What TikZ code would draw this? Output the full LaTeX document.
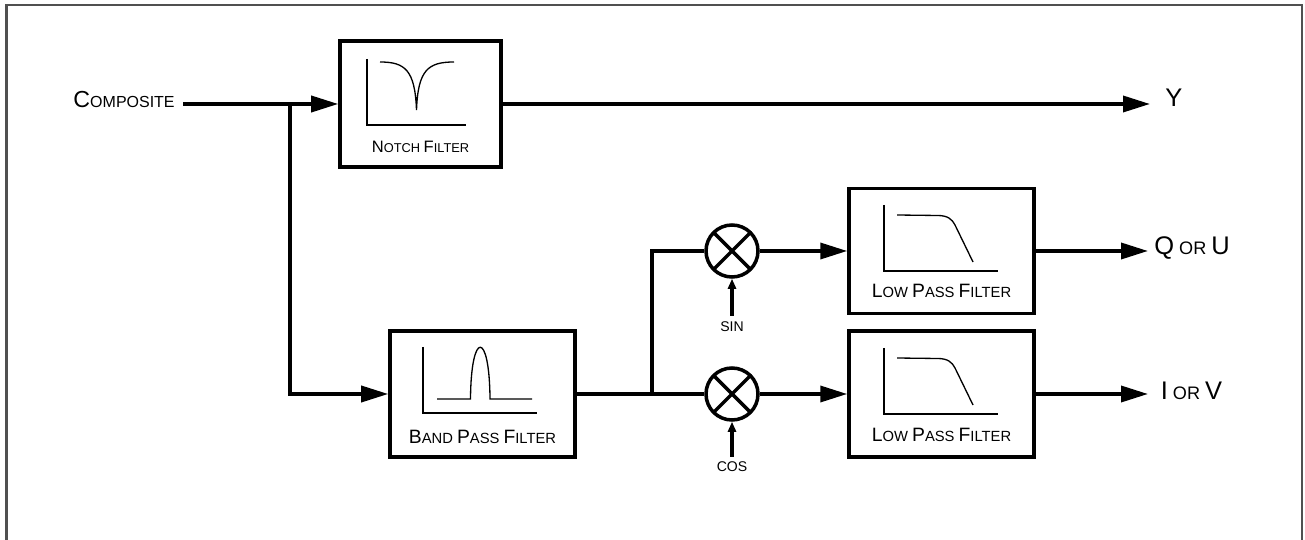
\documentclass[tikz,border=0pt]{standalone}
\usepackage{fontspec}
\setmainfont{Liberation Sans}
\usetikzlibrary{positioning,arrows.meta}
\definecolor{framegray}{RGB}{80,80,80}
\def\capsize{11}
\newcommand{\lc}[1]{{\fontsize{\capsize}{\capsize}\selectfont #1}}

\tikzset{
	filterbox/.style={draw, line width=2pt, minimum width=3.7cm, minimum height=2.52cm, inner sep=0pt},
	mixer/.style={draw, circle, line width=2pt, minimum size=1.04cm, inner sep=0pt,
		path picture={\draw[line width=2pt] (path picture bounding box.north west) -- (path picture bounding box.south east)
			(path picture bounding box.south west) -- (path picture bounding box.north east);}},
	wire/.style={line width=2pt},
	bigtip/.style={-{Triangle[length=0.54cm,width=0.32cm]}},
	smalltip/.style={-{Triangle[length=0.2cm,width=0.16cm]}},
	curve/.style={line width=0.75pt},
	boxlbl/.style={inner sep=0pt, font={\def\capsize{11}\fontsize{8.4}{10}\selectfont}},
	notchlbl/.style={inner sep=0pt, font={\def\capsize{9.4}\fontsize{7.3}{9}\selectfont}},
	inlbl/.style={inner sep=0pt, font={\def\capsize{13.2}\fontsize{9.1}{11}\selectfont}},
	outlbl/.style={inner sep=0pt, font={\def\capsize{14.5}\fontsize{10.3}{12}\selectfont}},
	sclbl/.style={inner sep=0pt, font=\fontsize{8}{9}\selectfont},
}

\begin{document}
\begin{tikzpicture}
	\useasboundingbox (0,0) rectangle (26.1,10.8);
	% frame, open at the bottom
	\draw[framegray, line width=1.2pt] (0.13,-0.2) -- (0.13,10.7) -- (26.04,10.7) -- (26.04,-0.2);

	% blocks
	\node[filterbox, minimum width=3.22cm] (notch) at (8.41,8.72) {};
	\node[filterbox] (bpf) at (9.65,2.92) {};
	\node[mixer] (mixs) at (14.64,5.78) {};
	\node[mixer] (mixc) at (14.64,2.92) {};
	\node[filterbox, minimum height=2.5cm] (lpfq) at (18.83,5.78) {};
	\node[filterbox] (lpfi) at (18.83,2.92) {};

	\node[notchlbl, above=0.32cm of notch.south] {\lc{N}OTCH \lc{F}ILTER};
	\node[boxlbl, above=0.3cm of bpf.south] {\lc{B}AND \lc{P}ASS \lc{F}ILTER};
	\node[boxlbl, above=0.34cm of lpfq.south] {\lc{L}OW \lc{P}ASS \lc{F}ILTER};
	\node[boxlbl, above=0.34cm of lpfi.south] {\lc{L}OW \lc{P}ASS \lc{F}ILTER};

	% responses
	\draw[curve] (7.34,9.62) -- (7.34,8.3) -- (9.32,8.3);
	\draw[curve] (7.6,9.56) .. controls (8.1,9.56) and (8.3,9.4) .. (8.33,8.6) .. controls (8.36,9.4) and (8.56,9.56) .. (9.08,9.56);
	\draw[curve] (8.46,3.86) -- (8.46,2.54) -- (10.74,2.54);
	\draw[curve] (8.74,2.82) -- (9.41,2.82) .. controls (9.42,4.2) and (9.79,4.2) .. (9.8,2.82) -- (10.64,2.82);
	\draw[curve] (17.68,6.7) -- (17.68,5.38) -- (19.96,5.38);
	\draw[curve] (17.94,6.5) -- (18.75,6.49) .. controls (18.95,6.49) and (19.04,6.42) .. (19.1,6.3) -- (19.46,5.56);
	\draw[curve] (17.68,3.84) -- (17.68,2.52) -- (19.96,2.52);
	\draw[curve] (17.94,3.64) -- (18.75,3.63) .. controls (18.95,3.63) and (19.04,3.56) .. (19.1,3.44) -- (19.46,2.7);

	% ends and joints
	\coordinate (cin) at (3.66,8.72);
	\coordinate (split) at (5.8,8.72);
	\coordinate (branch) at (13.04,2.92);
	\coordinate (yend) at (23.0,8.72);
	\coordinate (qend) at (22.96,5.78);
	\coordinate (iend) at (22.96,2.92);

	\node[inlbl, left=0.16cm of cin, yshift=0.08cm] (comp) {\lc{C}OMPOSITE};
	\node[outlbl, right=0.3cm of yend, yshift=0.12cm] (ylbl) {\lc{Y}};
	\node[outlbl, right=0.12cm of qend, yshift=0.06cm] (qlbl) {\lc{Q} OR \lc{U}};
	\node[outlbl, right=0.25cm of iend, yshift=0.06cm] (ilbl) {\lc{I} OR \lc{V}};
	\node[sclbl] (sinlbl) at (14.64,4.26) {SIN};
	\node[sclbl] (coslbl) at (14.64,1.46) {COS};

	% signal paths
	\draw[wire, bigtip] (cin) -- (notch.west);
	\draw[wire, bigtip] (split) |- (bpf.west);
	\draw[wire, bigtip] (notch.east) -- (yend);
	\draw[wire] (bpf.east) -- (mixc.west);
	\draw[wire] (branch) |- (mixs.west);
	\draw[wire, bigtip] (mixs.east) -- (lpfq.west);
	\draw[wire, bigtip] (mixc.east) -- (lpfi.west);
	\draw[wire, bigtip] (lpfq.east) -- (qend);
	\draw[wire, bigtip] (lpfi.east) -- (iend);
	\draw[wire, smalltip] ([yshift=0.12cm]sinlbl.north) -- (mixs.south);
	\draw[wire, smalltip] ([yshift=0.1cm]coslbl.north) -- (mixc.south);
\end{tikzpicture}
\end{document}
